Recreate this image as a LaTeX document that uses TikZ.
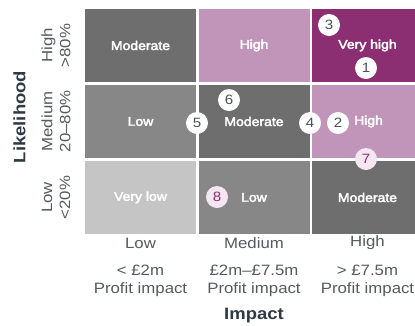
\documentclass[tikz,border=0pt]{standalone}
\usepackage{fontspec}
\setmainfont[FakeStretch=1.12]{Liberation Sans}
\newfontfamily\cellfont[FakeStretch=1.12,FakeBold=3]{Liberation Sans}
\definecolor{modgrey}{HTML}{6E6E6E}
\definecolor{lowgrey}{HTML}{878787}
\definecolor{vlowgrey}{HTML}{C5C5C5}
\definecolor{highpink}{HTML}{C195B9}
\definecolor{vhighpurple}{HTML}{8B2E72}
\definecolor{badgepink}{HTML}{F4E7F1}
\definecolor{labelgrey}{HTML}{555A60}
\definecolor{titleslate}{HTML}{2F3A45}
\definecolor{badgetext}{HTML}{4A5260}
\tikzset{
  cell/.style={rectangle, inner sep=0pt, minimum width=111pt, minimum height=73pt,
    text=white, font=\cellfont\fontsize{12.5}{14}\selectfont},
  badge/.style={circle, fill=white, inner sep=0pt, minimum size=22pt,
    text=badgetext, font=\fontsize{13.5}{15}\selectfont},
  pinkbadge/.style={badge, fill=badgepink, text=vhighpurple},
  axislabel/.style={text=labelgrey, font=\fontsize{15}{18}\selectfont, align=center, inner sep=0pt},
  axistitle/.style={text=titleslate, font=\fontsize{16.5}{19}\selectfont\bfseries, inner sep=0pt},
}
\begin{document}
\begin{tikzpicture}[x=1pt, y=-1pt]
\clip (0,0) rectangle (415,325);
\fill[white] (0,0) rectangle (415,325);
% risk matrix cells (rows: likelihood high to low; columns: impact low to high)
\node[cell, fill=modgrey]     (c11) at (140.5,45.5)  {Moderate};
\node[cell, fill=highpink]    (c12) at (254,45.5)    {High};
\node[cell, fill=vhighpurple] (c13) at (367.5,45.5)  {Very high};
\node[cell, fill=lowgrey]     (c21) at (140.5,121.5) {Low};
\node[cell, fill=modgrey]     (c22) at (254,121.5)   {Moderate};
\node[cell, fill=highpink]    (c23) at (367.5,121.5) {\hspace*{2pt}High};
\node[cell, fill=vlowgrey]    (c31) at (140.5,197.5) {Very low};
\node[cell, fill=lowgrey]     (c32) at (254,197.5)   {Low};
\node[cell, fill=modgrey]     (c33) at (367.5,197.5) {Moderate};
% numbered risk markers
\node[badge] (b3) at (329,25)  {3};
\node[badge] (b1) at (366,68)  {1};
\node[badge] (b6) at (229,100) {6};
\node[badge] (b5) at (197,123) {5};
\node[badge] (b4) at (310,123) {4};
\node[badge] (b2) at (338,123) {2};
\node[pinkbadge] (b7) at (366,159) {7};
\node[pinkbadge] (b8) at (217,197) {8};
% likelihood axis
\node[axislabel, rotate=90] (r1) at (56,45.5)  {High\\>80\%};
\node[axislabel, rotate=90] (r2) at (56,121.5) {Medium\\20–80\%};
\node[axislabel, rotate=90] (r3) at (56,197.5) {Low\\<20\%};
\node[axistitle, rotate=90] (ylab) at (19.5,117) {Likelihood};
% impact axis
\node[axislabel] (k1) at (140.5,243) {Low};
\node[axislabel] (k2) at (254,243)   {Medium};
\node[axislabel] (k3) at (367.5,243) {High};
\node[axislabel] (p1) at (140.5,281) {< £2m\\Profit impact};
\node[axislabel] (p2) at (254,281)   {£2m–£7.5m\\Profit impact};
\node[axislabel] (p3) at (367.5,281) {> £7.5m\\Profit impact};
\node[axistitle] (xlab) at (254,315.5) {Impact};
\end{tikzpicture}
\end{document}
